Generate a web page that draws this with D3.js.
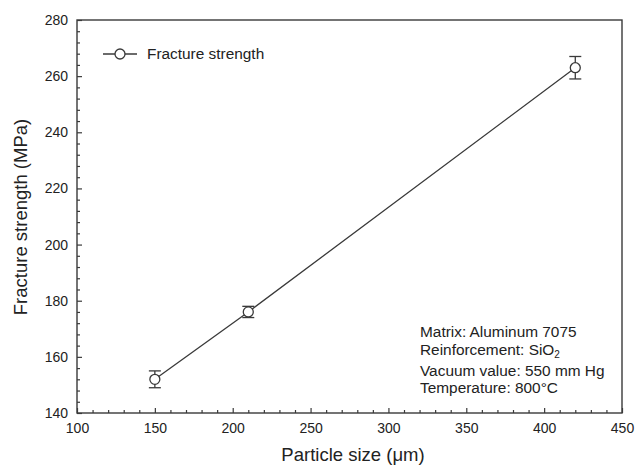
<!DOCTYPE html>
<html><head><meta charset="utf-8">
<script src="https://cdn.jsdelivr.net/npm/d3@7"></script>
<style>body{margin:0;background:#fff}text{font-family:"Liberation Sans",Arial,sans-serif;fill:#222}</style>
</head><body><svg id="c" width="637" height="465"></svg>
<script>
const particleSize = [150, 210, 420];
const strength = [152, 176, 263];
const errors = [3, 2, 4];
const xTicks = [100,150,200,250,300,350,400,450];
const yTicks = [140,160,180,200,220,240,260,280];
const seriesName = "Fracture strength";
const notes = ["Matrix: Aluminum 7075","Reinforcement: SiO","Vacuum value: 550 mm Hg","Temperature: 800°C"];

const svg = d3.select("#c");
const L=77, R=622, T=20, B=413;
const x = d3.scaleLinear().domain([100,450]).range([L,R]);
const y = d3.scaleLinear().domain([140,280]).range([B,T]);
const col = "#3a3a3a";

// frame
svg.append("rect").attr("x",L).attr("y",T).attr("width",R-L).attr("height",B-T)
  .attr("fill","none").attr("stroke",col).attr("stroke-width",1.4);

// minor ticks
const xg = svg.append("g").attr("transform",`translate(0,${B})`);
xg.call(d3.axisBottom(x).tickValues(d3.range(110,450,10).filter(v=>v%50)).tickSize(-3).tickFormat(""));
xg.select(".domain").remove();
const xg2 = svg.append("g").attr("transform",`translate(0,${B})`);
xg2.call(d3.axisBottom(x).tickValues(xTicks).tickSize(-5).tickPadding(10));
xg2.select(".domain").remove();
const yg = svg.append("g").attr("transform",`translate(${L},0)`);
yg.call(d3.axisLeft(y).tickValues(d3.range(144,280,4).filter(v=>v%20)).tickSize(-3).tickFormat(""));
yg.select(".domain").remove();
const yg2 = svg.append("g").attr("transform",`translate(${L},0)`);
yg2.call(d3.axisLeft(y).tickValues(yTicks).tickSize(-5).tickPadding(9));
yg2.select(".domain").remove();
svg.selectAll(".tick line").attr("stroke",col).attr("stroke-width",1.2);
svg.selectAll(".tick text").attr("font-size",14).style("font-family","Liberation Sans, Arial, sans-serif").attr("fill","#222");

// axis titles
svg.append("text").attr("x",353).attr("y",461).attr("text-anchor","middle").attr("font-size",18.5)
  .text("Particle size (μm)");
svg.append("text").attr("transform",`translate(27,217) rotate(-90)`).attr("text-anchor","middle").attr("font-size",18.5)
  .text("Fracture strength (MPa)");

const data = particleSize.map((p,i)=>({x:p,y:strength[i],e:errors[i]}));
// line
svg.append("path").datum(data).attr("fill","none").attr("stroke",col).attr("stroke-width",1.3)
  .attr("d",d3.line().x(d=>x(d.x)).y(d=>y(d.y)));
// error bars
const eb = svg.append("g").attr("stroke",col).attr("stroke-width",1.3);
data.forEach(d=>{
  eb.append("line").attr("x1",x(d.x)).attr("x2",x(d.x)).attr("y1",y(d.y+d.e)).attr("y2",y(d.y-d.e));
  [d.y+d.e,d.y-d.e].forEach(v=>eb.append("line").attr("x1",x(d.x)-6).attr("x2",x(d.x)+6).attr("y1",y(v)).attr("y2",y(v)));
});
svg.append("g").selectAll("circle").data(data).join("circle")
  .attr("cx",d=>x(d.x)).attr("cy",d=>y(d.y)).attr("r",5)
  .attr("fill","#fff").attr("stroke",col).attr("stroke-width",1.3);

// legend
svg.append("line").attr("x1",103).attr("x2",137).attr("y1",54).attr("y2",54).attr("stroke",col).attr("stroke-width",1.3);
svg.append("circle").attr("cx",120).attr("cy",54).attr("r",5).attr("fill","#fff").attr("stroke",col).attr("stroke-width",1.3);
svg.append("text").attr("x",147).attr("y",59).attr("font-size",15.4).text(seriesName);

// notes
const ny=[337,355,376,393];
notes.forEach((t,i)=>{
  const tx = svg.append("text").attr("x",420).attr("y",ny[i]).attr("font-size",15.4).text(t);
  if(i===1) tx.append("tspan").attr("font-size",10).attr("dy",3).text("2");
});
</script></body></html>
